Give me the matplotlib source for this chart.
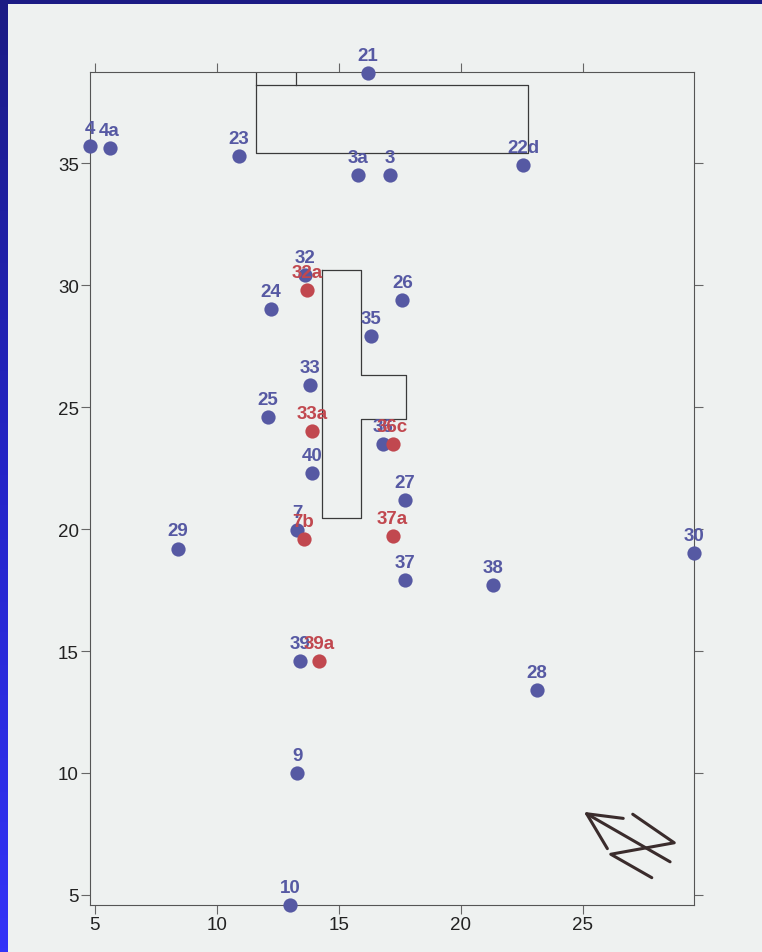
#!/usr/bin/env python3

import matplotlib
matplotlib.use('Agg')
import matplotlib.pyplot as plt
import numpy as np
from matplotlib.colors import LinearSegmentedColormap
from matplotlib.patches import Rectangle


# DATA

blue_labels = ['4', '4a', '23', '21', '3a', '3', '22d', '32', '24', '26', '35', '33', '25',
               '36', '40', '27', '7', '29', '30', '37', '38', '39', '28', '9', '10']
blue_x = [4.8, 5.6, 10.9, 16.2, 15.8, 17.1, 22.55, 13.6, 12.2, 17.6, 16.3, 13.8, 12.1,
          16.8, 13.9, 17.7, 13.3, 8.4, 29.55, 17.7, 21.3, 13.4, 23.1, 13.3, 13.0]
blue_y = [35.7, 35.6, 35.3, 38.7, 34.5, 34.5, 34.9, 30.4, 29.0, 29.4, 27.9, 25.9, 24.6,
          23.5, 22.3, 21.2, 19.95, 19.2, 19.0, 17.9, 17.7, 14.6, 13.4, 10.0, 4.6]

red_labels = ['32a', '33a', '36c', '7b', '37a', '39a']
red_x = [13.7, 13.9, 17.2, 13.55, 17.2, 14.2]
red_y = [29.8, 24.0, 23.5, 19.6, 19.7, 14.6]

# building outlines (x, y polylines)
top_block_x = [11.6, 11.6, 22.75, 22.75, 11.6]
top_block_y = [38.73, 35.4, 35.4, 38.2, 38.2]
top_notch_x = [13.25, 13.25]
top_notch_y = [38.73, 38.2]
mid_block_x = [14.3, 15.9, 15.9, 17.75, 17.75, 15.9, 15.9, 14.3, 14.3]
mid_block_y = [30.6, 30.6, 26.3, 26.3, 24.5, 24.5, 20.45, 20.45, 30.6]

# hand-drawn north arrow strokes
arrow_shaft_x = [28.57, 25.15]
arrow_shaft_y = [6.36, 8.33]
arrow_head_x = [26.65, 25.15, 26.0]
arrow_head_y = [8.14, 8.33, 6.9]
arrow_n_x = [27.04, 28.74, 26.14, 27.82]
arrow_n_y = [8.31, 7.14, 6.67, 5.71]

x_ticks = [5, 10, 15, 20, 25]
y_ticks = [5, 10, 15, 20, 25, 30, 35]

BLUE = '#5659a3'
RED = '#c1484f'
PAPER = '#eef1f0'


# FUNCTIONS

# Paint the blue slide border (gradient strip on the left, navy strip on top)
def draw_border(fig):
    cmap = LinearSegmentedColormap.from_list('edge', ['#1b1b84', '#2424c8', '#3333f8'])
    strip = fig.add_axes([0, 0, 8 / 762, 1])
    strip.imshow(np.linspace(0, 1, 256).reshape(-1, 1), aspect='auto', cmap=cmap)
    strip.set_axis_off()
    fig.add_artist(Rectangle((0, 1 - 5 / 953), 1, 5 / 953, transform=fig.transFigure,
                             facecolor='#1b1b84', edgecolor='none'))


# Draw the site plan scatter with outlines and labels
def draw_plan(fig):
    ax = fig.add_axes([90 / 762, 47 / 953, 604 / 762, 833 / 953])
    ax.set_facecolor(PAPER)
    ax.set_xlim(4.8, 29.55)
    ax.set_ylim(4.59, 38.73)

    line_kw = dict(color='#3a3a3a', linewidth=0.9)
    ax.plot(top_block_x, top_block_y, **line_kw)
    ax.plot(top_notch_x, top_notch_y, **line_kw)
    ax.plot(mid_block_x, mid_block_y, **line_kw)

    arrow_kw = dict(color='#3a2c2c', linewidth=2.2, solid_capstyle='round')
    ax.plot(arrow_shaft_x, arrow_shaft_y, **arrow_kw)
    ax.plot(arrow_head_x, arrow_head_y, **arrow_kw)
    ax.plot(arrow_n_x, arrow_n_y, **arrow_kw)

    ax.scatter(blue_x, blue_y, s=105, color=BLUE, clip_on=False, zorder=3, linewidths=0)
    ax.scatter(red_x, red_y, s=105, color=RED, clip_on=False, zorder=4, linewidths=0)

    for lab, x, y in zip(blue_labels, blue_x, blue_y):
        ax.annotate(lab, (x, y), xytext=(0, 6.5), textcoords='offset points', ha='center',
                    va='bottom', fontsize=13.5, fontweight='bold', color=BLUE,
                    annotation_clip=False, zorder=5)
    for lab, x, y in zip(red_labels, red_x, red_y):
        ax.annotate(lab, (x, y), xytext=(0, 6.5), textcoords='offset points', ha='center',
                    va='bottom', fontsize=13.5, fontweight='bold', color=RED,
                    annotation_clip=False, zorder=6)

    ax.set_xticks(x_ticks)
    ax.set_yticks(y_ticks)
    ax.tick_params(direction='out', length=6.5, width=0.8, color='#666666',
                   labelsize=13.5, labelcolor='#222222', pad=1.5,
                   top=True, right=True, labeltop=False, labelright=False)
    for sp in ax.spines.values():
        sp.set_color('#555555')
        sp.set_linewidth(0.8)
    return ax


if __name__ == "__main__":
    plt.rcParams['font.family'] = ['Liberation Sans', 'DejaVu Sans']
    fig = plt.figure(figsize=(7.62, 9.53), dpi=100, facecolor=PAPER)
    draw_border(fig)
    draw_plan(fig)
    fig.savefig('out.png', dpi=100, facecolor=PAPER)
    plt.close(fig)
